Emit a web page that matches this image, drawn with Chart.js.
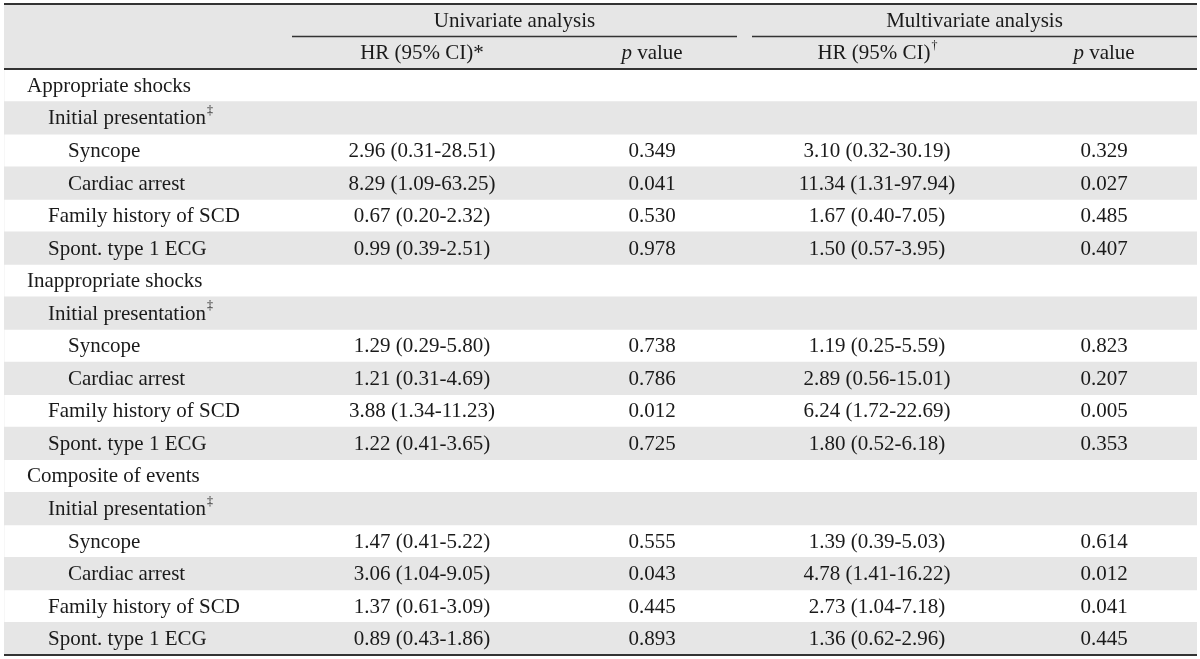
<!DOCTYPE html>
<html>
<head>
<meta charset="utf-8">
<script src="https://cdn.jsdelivr.net/npm/chart.js@4/dist/chart.umd.min.js"></script>
<style>
html,body{margin:0;padding:0;background:#fff;}
#wrap{width:1200px;height:659px;position:relative;}
</style>
</head>
<body>
<div id="wrap"><canvas id="c" width="1200" height="659"></canvas></div>
<script>
// ---- data ----
const rowLabels = [
  "", "",
  "Appropriate shocks", "Initial presentation", "Syncope", "Cardiac arrest", "Family history of SCD", "Spont. type 1 ECG",
  "Inappropriate shocks", "Initial presentation", "Syncope", "Cardiac arrest", "Family history of SCD", "Spont. type 1 ECG",
  "Composite of events", "Initial presentation", "Syncope", "Cardiac arrest", "Family history of SCD", "Spont. type 1 ECG"
];
const rowLevels = [0,0, 0,1,2,2,1,1, 0,1,2,2,1,1, 0,1,2,2,1,1];
const rowMarks = ["","", "","‡","","","","", "","‡","","","","", "","‡","","","",""];
const rowShaded = [1,1, 0,1,0,1,0,1, 0,1,0,1,0,1, 0,1,0,1,0,1];
const uniHR = ["","", "","","2.96 (0.31-28.51)","8.29 (1.09-63.25)","0.67 (0.20-2.32)","0.99 (0.39-2.51)",
  "","","1.29 (0.29-5.80)","1.21 (0.31-4.69)","3.88 (1.34-11.23)","1.22 (0.41-3.65)",
  "","","1.47 (0.41-5.22)","3.06 (1.04-9.05)","1.37 (0.61-3.09)","0.89 (0.43-1.86)"];
const uniP = ["","", "","","0.349","0.041","0.530","0.978",
  "","","0.738","0.786","0.012","0.725",
  "","","0.555","0.043","0.445","0.893"];
const multiHR = ["","", "","","3.10 (0.32-30.19)","11.34 (1.31-97.94)","1.67 (0.40-7.05)","1.50 (0.57-3.95)",
  "","","1.19 (0.25-5.59)","2.89 (0.56-15.01)","6.24 (1.72-22.69)","1.80 (0.52-6.18)",
  "","","1.39 (0.39-5.03)","4.78 (1.41-16.22)","2.73 (1.04-7.18)","1.36 (0.62-2.96)"];
const multiP = ["","", "","","0.329","0.027","0.485","0.407",
  "","","0.823","0.207","0.005","0.353",
  "","","0.614","0.012","0.041","0.445"];
const groupHeaders = ["Univariate analysis", "Multivariate analysis"];
const colHeaders = ["HR (95% CI)", "p value", "HR (95% CI)", "p value"];
const colHeaderMarks = ["*", "", "†", ""];

// ---- layout / style constants ----
const FONT = "Liberation Serif, 'Times New Roman', serif";
const FS = 21;
const TXT = "#1a1a1a";
const colCenters = [422, 652, 877, 1104];   // canvas x of column centres
const groupSpans = [[292, 737], [752, 1197]];
const indentX = [27, 48, 68];

const tablePlugin = {
  id: 'tablePlugin',
  afterDatasetsDraw(chart) {
    const ctx = chart.ctx;
    const y = chart.scales.y;
    const area = chart.chartArea;
    const rowH = Math.abs(y.getPixelForValue(1) - y.getPixelForValue(0));
    ctx.save();
    ctx.fillStyle = TXT;
    ctx.textBaseline = 'middle';
    // rows
    for (let i = 0; i < rowLabels.length; i++) {
      const py = y.getPixelForValue(i) + 1;
      ctx.font = FS + "px " + FONT;
      ctx.textAlign = 'left';
      if (rowLabels[i]) {
        const x0 = indentX[rowLevels[i]];
        ctx.fillText(rowLabels[i], x0, py);
        if (rowMarks[i]) {
          const w = ctx.measureText(rowLabels[i]).width;
          ctx.font = "12px " + FONT;
          ctx.fillText(rowMarks[i], x0 + w + 1, py - 8);
          ctx.font = FS + "px " + FONT;
        }
      }
      ctx.textAlign = 'center';
      const cells = [uniHR[i], uniP[i], multiHR[i], multiP[i]];
      cells.forEach((t, k) => { if (t) ctx.fillText(t, colCenters[k], py); });
    }
    // header row 1: group titles
    const py0 = y.getPixelForValue(0) + 1;
    ctx.textAlign = 'center';
    groupHeaders.forEach((t, k) => {
      ctx.fillText(t, (groupSpans[k][0] + groupSpans[k][1]) / 2, py0);
    });
    // header row 2: column titles
    const py1 = y.getPixelForValue(1) + 1;
    colHeaders.forEach((t, k) => {
      const cx = colCenters[k];
      if (t.startsWith("p ")) {
        ctx.font = "italic " + FS + "px " + FONT;
        const wp = ctx.measureText("p").width;
        ctx.font = FS + "px " + FONT;
        const rest = t.slice(1);
        const wr = ctx.measureText(rest).width;
        const start = cx - (wp + wr) / 2;
        ctx.textAlign = 'left';
        ctx.font = "italic " + FS + "px " + FONT;
        ctx.fillText("p", start, py1);
        ctx.font = FS + "px " + FONT;
        ctx.fillText(rest, start + wp, py1);
      } else {
        ctx.font = FS + "px " + FONT;
        const mark = colHeaderMarks[k];
        const sup = mark === "†";
        const w = ctx.measureText(t).width;
        ctx.font = (sup ? 12 : FS) + "px " + FONT;
        const wm = ctx.measureText(mark).width;
        const start = cx - (w + wm) / 2;
        ctx.textAlign = 'left';
        ctx.font = FS + "px " + FONT;
        ctx.fillText(t, start, py1);
        ctx.font = (sup ? 12 : FS) + "px " + FONT;
        ctx.fillText(mark, start + w + (sup ? 1 : 0), sup ? py1 - 8 : py1);
      }
    });
    // rules
    ctx.strokeStyle = "#333";
    ctx.lineWidth = 2;
    const topY = area.top;
    const hdrY = y.getPixelForValue(1) + rowH / 2;
    const botY = area.bottom;
    [topY, hdrY, botY].forEach(ly => {
      ctx.beginPath(); ctx.moveTo(area.left, ly); ctx.lineTo(area.right, ly); ctx.stroke();
    });
    ctx.lineWidth = 1.5;
    const midY = y.getPixelForValue(0) + rowH / 2;
    groupSpans.forEach(s => {
      ctx.beginPath(); ctx.moveTo(s[0], midY); ctx.lineTo(s[1], midY); ctx.stroke();
    });
    ctx.restore();
  }
};

new Chart(document.getElementById('c'), {
  type: 'bar',
  data: {
    labels: rowLabels.map((l, i) => "r" + i),
    datasets: [{
      data: rowShaded,
      backgroundColor: '#e6e6e6',
      borderWidth: 0,
      barPercentage: 1,
      categoryPercentage: 1
    }]
  },
  options: {
    indexAxis: 'y',
    responsive: false,
    animation: false,
    layout: { padding: { left: 4, right: 3, top: 4, bottom: 4 } },
    plugins: { legend: { display: false }, tooltip: { enabled: false } },
    scales: {
      x: { display: false, min: 0, max: 1 },
      y: { display: false }
    }
  },
  plugins: [tablePlugin]
});
</script>
</body>
</html>
